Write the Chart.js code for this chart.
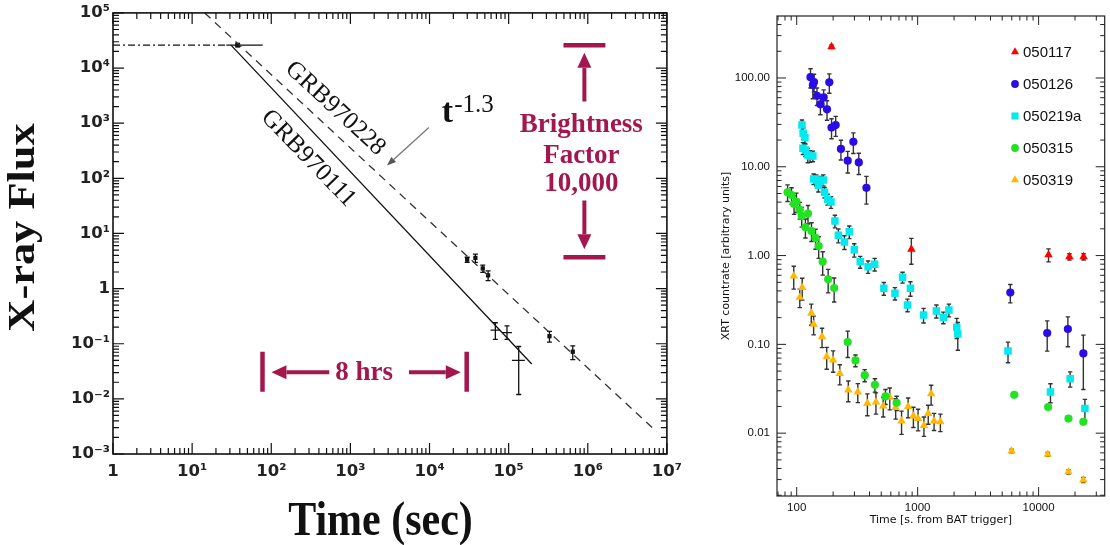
<!DOCTYPE html>
<html lang="en">
<head>
<meta charset="utf-8">
<title>X-ray afterglows</title>
<script src="https://cdn.jsdelivr.net/npm/chart.js@4.4.1/dist/chart.umd.min.js"></script>
<style>
  html, body { margin: 0; padding: 0; background: #fff; }
  .stage { position: relative; width: 1110px; height: 545px; overflow: hidden; }
  .stage canvas { position: absolute; top: 0; }
  #afterglow { left: 0; }
  #xrt { left: 690px; }
</style>
</head>
<body>
<div class="stage">
  <canvas id="afterglow" width="690" height="545"></canvas>
  <canvas id="xrt" width="420" height="545"></canvas>
</div>
<script>
// ---- left panel: BeppoSAX afterglows ----
const fluxTicks  = [1e-3, 1e-2, 1e-1, 1, 1e1, 1e2, 1e3, 1e4, 1e5];
const fluxLabels = ['10⁻³', '10⁻²', '10⁻¹', '1', '10¹', '10²', '10³', '10⁴', '10⁵'];
const timeTicks  = [1, 1e1, 1e2, 1e3, 1e4, 1e5, 1e6, 1e7];
const timeLabels = ['1', '10¹', '10²', '10³', '10⁴', '10⁵', '10⁶', '10⁷'];

const plateauT      = [1, 27];
const plateauFlux   = [26000, 26000];
const fit970111T    = [31, 196000];
const fit970111Flux = [26000, 0.043];
const fit970228T    = [14.4, 7400000];
const fit970228Flux = [100000, 0.00254];

const grb970111T    = [37.6, 67900, 95300, 134000];
const grb970111Flux = [26000, 0.176, 0.159, 0.0498];
const grb970111TLo  = [27, 59000, 83000, 110000];
const grb970111THi  = [78, 78000, 110000, 160000];
const grb970111FLo  = [26000, 0.12, 0.12, 0.012];
const grb970111FHi  = [26000, 0.24, 0.21, 0.089];

const grb970228T    = [29900, 38000, 47100, 55000, 328000, 646000];
const grb970228Flux = [3.35, 3.6, 2.32, 1.74, 0.137, 0.0716];
const grb970228Err  = [0.35, 0.6, 0.35, 0.35, 0.03, 0.02];

// ---- right panel: Swift XRT light curves ----
const xrtTimeTicks  = [100, 1000, 10000];
const xrtTimeLabels = ['100', '1000', '10000'];
const xrtRateTicks  = [0.01, 0.1, 1, 10, 100];
const xrtRateLabels = ['0.01', '0.10', '1.00', '10.00', '100.00'];

const b050117T    = [194, 887, 12080, 17990, 23550];
const b050117Rate = [225, 1.18, 1.02, 0.97, 0.97];
const b050117Err  = [10, 0.38, 0.17, 0.08, 0.08];

const b050126T    = [130, 136, 139, 147, 157, 167, 178, 186, 194, 210, 232, 264, 294, 326, 377, 5836, 11780, 17460, 23440];
const b050126Rate = [102, 83.4, 90, 63, 50.5, 60.5, 44.4, 89.3, 27.7, 29.5, 15.9, 11.7, 19.1, 11.2, 5.8, 0.383, 0.134, 0.149, 0.079];
const b050126Err  = [25, 25, 20, 14, 12, 13, 11, 22, 7, 7.5, 4, 3.2, 5, 3, 2, 0.09, 0.05, 0.055, 0.048];

const b050219aT    = [110.5, 113, 117, 112.6, 118, 123.5, 129, 136, 138, 145, 151, 157, 166, 170, 180, 192, 207, 221, 248, 272, 299, 335, 389, 441, 525, 649, 750, 824, 871, 1119, 1429, 1631, 1813, 2105, 2147, 5585, 12530, 18230, 24150];
const b050219aRate = [29.6, 23.8, 21.3, 16.2, 15.5, 13.6, 13.2, 13.2, 7.3, 7.1, 6.2, 6.8, 7.1, 5.15, 4.3, 4.0, 2.45, 1.69, 1.42, 1.85, 1.16, 0.85, 0.75, 0.80, 0.428, 0.376, 0.569, 0.278, 0.428, 0.214, 0.238, 0.201, 0.244, 0.156, 0.131, 0.084, 0.029, 0.041, 0.019];
const b050219aErr  = [4, 3.5, 3, 2.5, 2.5, 2.5, 2, 1.8, 1, 1, 1, 1, 1, 0.7, 0.6, 0.6, 0.4, 0.3, 0.25, 0.3, 0.2, 0.13, 0.12, 0.13, 0.07, 0.06, 0.08, 0.045, 0.08, 0.04, 0.04, 0.03, 0.04, 0.04, 0.045, 0.022, 0.007, 0.008, 0.005];

const b050315T    = [84, 90.6, 95, 99.4, 106, 110, 118, 124, 132.5, 143, 152, 164, 182, 204, 264, 306, 365, 443, 542, 670, 6290, 11990, 17660, 23440];
const b050315Rate = [5.16, 4.8, 3.81, 4.05, 3.27, 2.79, 2.08, 2.97, 1.89, 1.58, 1.28, 0.853, 0.54, 0.43, 0.106, 0.066, 0.045, 0.035, 0.026, 0.022, 0.027, 0.0197, 0.0146, 0.0134];
const b050315Err  = [1.1, 1.0, 0.9, 1.0, 0.7, 0.7, 0.5, 0.7, 0.45, 0.4, 0.35, 0.25, 0.16, 0.13, 0.035, 0.01, 0.007, 0.006, 0.005, 0.004, 0, 0, 0, 0];

const b050319T    = [94.5, 106, 111, 132, 138, 162, 177, 200, 227, 267, 320, 384, 452, 519, 588, 658, 736, 834, 922, 1008, 1127, 1223, 1292, 1367, 1541, 5984, 11910, 17660, 23440];
const b050319Rate = [0.589, 0.339, 0.436, 0.224, 0.168, 0.122, 0.0725, 0.0665, 0.047, 0.0306, 0.0291, 0.0217, 0.0224, 0.0202, 0.0253, 0.0194, 0.0137, 0.0199, 0.0156, 0.0146, 0.0122, 0.0166, 0.0277, 0.0137, 0.0134, 0.0063, 0.00578, 0.00366, 0.00297];
const b050319Err  = [0.17, 0.08, 0.12, 0.06, 0.04, 0.03, 0.02, 0.018, 0.012, 0.008, 0.007, 0.006, 0.006, 0.005, 0.007, 0.005, 0.004, 0.005, 0.004, 0.004, 0.003, 0.004, 0.007, 0.003, 0.003, 0.0003, 0.0003, 0.0002, 0.0002];

const crimson = '#a3174e';

const points = (xs, ys) => xs.map((v, i) => ({ x: v, y: ys[i] }));
const minus = (vals, errs) => vals.map((v, i) => v - errs[i]);
const plus = (vals, errs) => vals.map((v, i) => v + errs[i]);

function logSteps(min, max) {
    const out = [];
    for (let e = Math.floor(Math.log10(min)); e <= Math.ceil(Math.log10(max)); e++) {
        for (let m = 1; m <= 9; m++) {
            const v = m * Math.pow(10, e);
            if (v >= min * 0.9999 && v <= max * 1.0001) out.push([v, m === 1]);
        }
    }
    return out;
}

// inward log ticks on all four sides + box
const frameTicks = {
    id: 'frameTicks',
    afterDatasetsDraw(chart, args, o) {
        const { ctx, chartArea: a, scales: { x, y } } = chart;
        ctx.save();
        ctx.strokeStyle = o.color;
        ctx.lineWidth = o.tickWidth;
        ctx.beginPath();
        logSteps(x.min, x.max).forEach(([v, major]) => {
            const p = x.getPixelForValue(v);
            const len = major ? o.major : o.minor;
            ctx.moveTo(p, a.bottom); ctx.lineTo(p, a.bottom - len);
            ctx.moveTo(p, a.top); ctx.lineTo(p, a.top + len);
        });
        logSteps(y.min, y.max).forEach(([v, major]) => {
            const p = y.getPixelForValue(v);
            const len = major ? o.major : o.minor;
            ctx.moveTo(a.left, p); ctx.lineTo(a.left + len, p);
            ctx.moveTo(a.right, p); ctx.lineTo(a.right - len, p);
        });
        ctx.stroke();
        ctx.lineWidth = o.frameWidth;
        ctx.strokeRect(a.left, a.top, a.right - a.left, a.bottom - a.top);
        ctx.restore();
    }
};

const errorBars = {
    id: 'errorBars',
    beforeDatasetsDraw(chart, args, o) {
        const { ctx, chartArea: a, scales: { x, y } } = chart;
        const c = o.cap;
        ctx.save();
        ctx.beginPath();
        ctx.rect(a.left, a.top, a.right - a.left, a.bottom - a.top);
        ctx.clip();
        ctx.strokeStyle = o.color;
        ctx.lineWidth = o.lineWidth;
        ctx.beginPath();
        chart.data.datasets.forEach(ds => {
            ds.data.forEach((pt, j) => {
                const px = x.getPixelForValue(pt.x);
                const py = y.getPixelForValue(pt.y);
                if (ds.yLow && ds.yHigh[j] > ds.yLow[j]) {
                    const lo = y.getPixelForValue(Math.max(ds.yLow[j], y.min));
                    const hi = y.getPixelForValue(ds.yHigh[j]);
                    ctx.moveTo(px, lo); ctx.lineTo(px, hi);
                    ctx.moveTo(px - c, lo); ctx.lineTo(px + c, lo);
                    ctx.moveTo(px - c, hi); ctx.lineTo(px + c, hi);
                }
                if (ds.xLow && ds.xHigh[j] > ds.xLow[j]) {
                    const l = x.getPixelForValue(ds.xLow[j]);
                    const r = x.getPixelForValue(ds.xHigh[j]);
                    ctx.moveTo(l, py); ctx.lineTo(r, py);
                }
            });
        });
        ctx.stroke();
        ctx.restore();
    }
};

function arrow(ctx, x1, y1, x2, y2, head, half) {
    const ang = Math.atan2(y2 - y1, x2 - x1);
    const bx = x2 - head * Math.cos(ang), by = y2 - head * Math.sin(ang);
    ctx.beginPath();
    ctx.moveTo(x1, y1); ctx.lineTo(bx, by);
    ctx.stroke();
    ctx.beginPath();
    ctx.moveTo(x2, y2);
    ctx.lineTo(bx + half * Math.sin(ang), by - half * Math.cos(ang));
    ctx.lineTo(bx - half * Math.sin(ang), by + half * Math.cos(ang));
    ctx.closePath();
    ctx.fill();
}

// labels, arrows and axis titles of the left panel (anchored in data units)
const afterglowNotes = {
    id: 'afterglowNotes',
    afterDraw(chart) {
        const { ctx, scales: { x, y } } = chart;
        const X = v => x.getPixelForValue(v), Y = v => y.getPixelForValue(v);
        ctx.save();

        // fit labels along the lines
        ctx.fillStyle = '#111';
        ctx.font = '25px "Liberation Serif"';
        ctx.textAlign = 'center';
        ctx.textBaseline = 'middle';
        [['GRB970228', 644, 1839, 42.7], ['GRB970111', 294, 229, 46]].forEach(([txt, t, f, deg]) => {
            ctx.save();
            ctx.translate(X(t), Y(f));
            ctx.rotate(deg * Math.PI / 180);
            ctx.fillText(txt, 0, 0);
            ctx.restore();
        });

        // t^-1.3 with pointer
        ctx.textAlign = 'left';
        ctx.textBaseline = 'alphabetic';
        ctx.font = 'bold 34px "Liberation Serif"';
        const tx = X(14320), ty = Y(1069);
        ctx.fillText('t', tx, ty);
        const tw = ctx.measureText('t').width;
        ctx.font = '25px "Liberation Serif"';
        ctx.fillText('-1.3', tx + tw + 1, ty - 10);
        ctx.strokeStyle = '#777';
        ctx.fillStyle = '#555';
        ctx.lineWidth = 1.3;
        arrow(ctx, X(9817), Y(832), X(2904), Y(170.6), 9, 3.5);

        // brightness factor marker
        ctx.strokeStyle = crimson;
        ctx.fillStyle = crimson;
        ctx.lineWidth = 4.5;
        ctx.beginPath();
        ctx.moveTo(X(4.93e5), Y(26000)); ctx.lineTo(X(1.67e6), Y(26000));
        ctx.moveTo(X(4.93e5), Y(3.71)); ctx.lineTo(X(1.67e6), Y(3.71));
        ctx.stroke();
        ctx.lineWidth = 4;
        arrow(ctx, X(9.06e5), Y(2472), X(9.06e5), Y(18840), 15, 7);
        arrow(ctx, X(9.06e5), Y(39.6), X(9.06e5), Y(5.18), 15, 7);
        ctx.font = 'bold 27px "Liberation Serif"';
        ctx.textAlign = 'center';
        ctx.fillText('Brightness', X(8.3e5), Y(690));
        ctx.fillText('Factor', X(8.3e5), Y(193));
        ctx.fillText('10,000', X(8.3e5), Y(60.1));

        // 8 hrs marker
        ctx.lineWidth = 4.5;
        ctx.beginPath();
        ctx.moveTo(X(77.5), Y(0.0716)); ctx.lineTo(X(77.5), Y(0.01349));
        ctx.moveTo(X(29500), Y(0.0716)); ctx.lineTo(X(29500), Y(0.01349));
        ctx.stroke();
        ctx.lineWidth = 4;
        arrow(ctx, X(541), Y(0.0303), X(100.6), Y(0.0303), 15, 7);
        arrow(ctx, X(5505), Y(0.0303), X(24850), Y(0.0303), 15, 7);
        ctx.fillText('8 hrs', X(1492), Y(0.0217));

        // axis titles
        ctx.fillStyle = '#111';
        ctx.font = 'bold 37px "Liberation Serif"';
        ctx.save();
        ctx.translate(33.7, (chart.chartArea.top + chart.chartArea.bottom) / 2 - 6);
        ctx.rotate(-Math.PI / 2);
        ctx.scale(1.2, 1);
        ctx.fillText('X-ray Flux', 0, 0);
        ctx.restore();
        ctx.font = 'bold 42px "Liberation Serif"';
        ctx.save();
        ctx.translate(380.5, 535);
        ctx.scale(1, 1.14);
        ctx.fillText('Time (sec)', 0, 0);
        ctx.restore();

        ctx.restore();
    }
};

const xrtSeries = [
    { label: '050117', t: b050117T, rate: b050117Rate, err: b050117Err, color: '#ff0000', style: 'triangle', r: 4.9 },
    { label: '050126', t: b050126T, rate: b050126Rate, err: b050126Err, color: '#2a0ce6', style: 'circle', r: 4.1 },
    { label: '050219a', t: b050219aT, rate: b050219aRate, err: b050219aErr, color: '#00eaf0', style: 'rect', r: 5.3 },
    { label: '050315', t: b050315T, rate: b050315Rate, err: b050315Err, color: '#22e322', style: 'circle', r: 4.1 },
    { label: '050319', t: b050319T, rate: b050319Rate, err: b050319Err, color: '#ffb800', style: 'triangle', r: 4.9 },
];

const xrtLegend = {
    id: 'xrtLegend',
    afterDraw(chart) {
        const { ctx, chartArea: a } = chart;
        ctx.save();
        ctx.font = '15px "Liberation Sans"';
        ctx.textBaseline = 'middle';
        ctx.textAlign = 'left';
        xrtSeries.forEach((s, i) => {
            const yy = a.top + 36 + i * 32;
            ctx.fillStyle = s.color;
            Chart.helpers.drawPoint(ctx, { pointStyle: s.style, radius: s.r * 0.95, rotation: 0, borderWidth: 0 }, a.left + 238, yy);
            ctx.fillStyle = '#111';
            ctx.fillText(s.label, a.left + 246, yy + 1);
        });
        ctx.restore();
    }
};

(function () {
    const canvas = document.getElementById('afterglow');
    const tickFont = { family: 'DejaVu Sans', weight: 'bold', size: 16.5 };

    new Chart(canvas, {
        type: 'scatter',
        data: {
            datasets: [
                { label: 'GRB970111 prompt', data: points(plateauT, plateauFlux), showLine: true, borderColor: '#111', borderWidth: 1.4, borderDash: [7, 3, 2, 3], pointRadius: 0 },
                { label: 'GRB970111 decay', data: points(fit970111T, fit970111Flux), showLine: true, borderColor: '#111', borderWidth: 1.3, pointRadius: 0 },
                { label: 'GRB970228 decay', data: points(fit970228T, fit970228Flux), showLine: true, borderColor: '#333', borderWidth: 1.3, borderDash: [8, 6], pointRadius: 0 },
                {
                    label: 'GRB970111', data: points(grb970111T, grb970111Flux),
                    pointStyle: 'rect', pointRadius: [3.5, 0, 0, 0], backgroundColor: '#111', borderWidth: 0,
                    xLow: grb970111TLo, xHigh: grb970111THi, yLow: grb970111FLo, yHigh: grb970111FHi
                },
                {
                    label: 'GRB970228', data: points(grb970228T, grb970228Flux),
                    pointStyle: 'rect', pointRadius: 3, backgroundColor: '#111', borderWidth: 0,
                    yLow: minus(grb970228Flux, grb970228Err), yHigh: plus(grb970228Flux, grb970228Err)
                },
            ]
        },
        options: {
            responsive: false,
            animation: false,
            layout: { padding: { top: 12, right: 21, left: 0, bottom: 0 } },
            plugins: {
                legend: { display: false },
                tooltip: { enabled: false },
                frameTicks: { color: '#111', tickWidth: 1.2, frameWidth: 1.6, major: 11, minor: 6 },
                errorBars: { color: '#111', lineWidth: 1.3, cap: 2.5 },
            },
            scales: {
                x: {
                    type: 'logarithmic', min: 1, max: 1e7,
                    grid: { display: false, drawTicks: false }, border: { display: false },
                    afterBuildTicks: s => { s.ticks = timeTicks.map(v => ({ value: v })); },
                    afterFit: s => { s.height = 91; },
                    ticks: { autoSkip: false, maxRotation: 0, padding: 8, color: '#222', font: tickFont, callback: (v, i) => timeLabels[i] }
                },
                y: {
                    type: 'logarithmic', min: 1e-3, max: 1e5,
                    grid: { display: false, drawTicks: false }, border: { display: false },
                    afterBuildTicks: s => { s.ticks = fluxTicks.map(v => ({ value: v })); },
                    afterFit: s => { s.width = 113; },
                    ticks: { autoSkip: false, padding: 3, color: '#222', font: tickFont, callback: (v, i) => fluxLabels[i] }
                }
            }
        },
        plugins: [errorBars, frameTicks, afterglowNotes]
    });
})();

(function () {
    const canvas = document.getElementById('xrt');
    const tickFont = { family: 'Liberation Sans', size: 11.5 };
    const titleFont = { family: 'DejaVu Sans', size: 11 };

    new Chart(canvas, {
        type: 'scatter',
        data: {
            datasets: xrtSeries.map(s => ({
                label: s.label,
                data: points(s.t, s.rate),
                pointStyle: s.style,
                pointRadius: s.r,
                backgroundColor: s.color,
                borderWidth: 0,
                yLow: minus(s.rate, s.err),
                yHigh: plus(s.rate, s.err),
            }))
        },
        options: {
            responsive: false,
            animation: false,
            layout: { padding: { top: 16, right: 1, left: 0, bottom: 0 } },
            plugins: {
                legend: { display: false },
                tooltip: { enabled: false },
                frameTicks: { color: '#222', tickWidth: 1, frameWidth: 1.2, major: 9, minor: 4.5 },
                errorBars: { color: '#333', lineWidth: 1.4, cap: 2.2 },
            },
            scales: {
                x: {
                    type: 'logarithmic', min: 68.7, max: 35200,
                    grid: { display: false, drawTicks: false }, border: { display: false },
                    afterBuildTicks: s => { s.ticks = xrtTimeTicks.map(v => ({ value: v })); },
                    afterFit: s => { s.height = 49; },
                    ticks: { autoSkip: false, maxRotation: 0, padding: 5, color: '#111', font: tickFont, callback: (v, i) => xrtTimeLabels[i] },
                    title: { display: true, text: 'Time [s. from BAT trigger]', color: '#111', font: titleFont, padding: { bottom: 18 } }
                },
                y: {
                    type: 'logarithmic', min: 0.00196, max: 499,
                    grid: { display: false, drawTicks: false }, border: { display: false },
                    afterBuildTicks: s => { s.ticks = xrtRateTicks.map(v => ({ value: v })); },
                    afterFit: s => { s.width = 87; },
                    ticks: { autoSkip: false, padding: 7, color: '#111', font: tickFont, callback: (v, i) => xrtRateLabels[i] },
                    title: { display: true, text: 'XRT countrate [arbitrary units]', color: '#111', font: titleFont, padding: { top: 30 } }
                }
            }
        },
        plugins: [errorBars, frameTicks, xrtLegend]
    });
})();
</script>
</body>
</html>
